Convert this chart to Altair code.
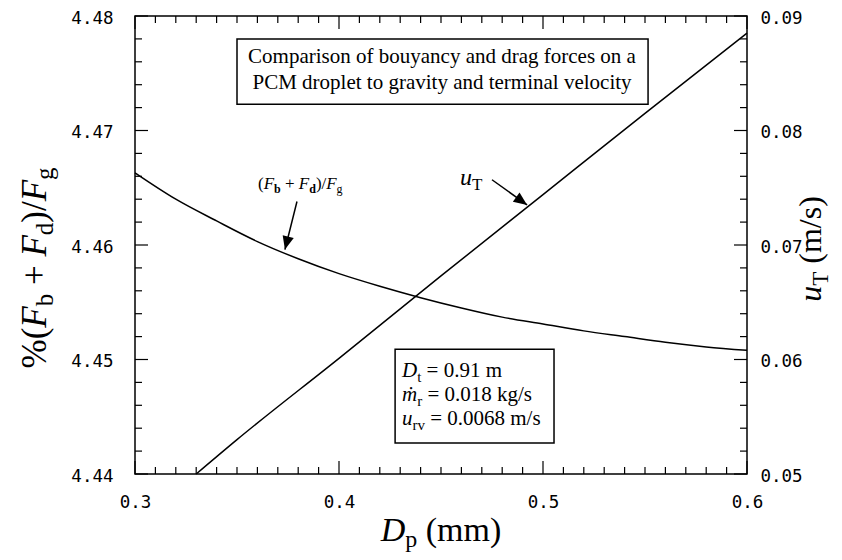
import math
import altair as alt
import pandas as pd

# ---------------- data ----------------
dp_ratio = [0.30, 0.32, 0.34, 0.36, 0.38, 0.40, 0.42, 0.44, 0.46, 0.48,
            0.50, 0.52, 0.54, 0.56, 0.58, 0.60]
ratio_vals = [4.4663, 4.4640, 4.4621, 4.4603, 4.4588, 4.4575, 4.4564, 4.4554,
              4.4545, 4.4537, 4.4531, 4.4525, 4.4520, 4.4515, 4.4511, 4.4508]

dp_ut = [0.33, 0.35, 0.40, 0.45, 0.50, 0.55, 0.60]
ut_vals = [0.0500, 0.0530, 0.0601, 0.0673, 0.0744, 0.0815, 0.0885]

x_major = [0.3, 0.4, 0.5, 0.6]
x_minor = [round(0.3 + 0.01 * i, 2) for i in range(31) if i % 10 != 0]
yl_major = [4.44, 4.45, 4.46, 4.47, 4.48]
yl_minor = [round(4.44 + 0.002 * i, 3) for i in range(21) if i % 5 != 0]
yr_major = [0.05, 0.06, 0.07, 0.08, 0.09]
yr_minor = [round(0.05 + 0.002 * i, 3) for i in range(21) if i % 5 != 0]

title_lines = ["Comparison of bouyancy and drag forces on a",
               "PCM droplet to gravity and terminal velocity"]

# ---------------- layout ----------------
W, H = 612, 458
SERIF = "Liberation Serif"
MONO = "DejaVu Sans Mono"
LBL = 17.5

xs = alt.Scale(domain=[0.3, 0.6], nice=False, zero=False)
yls = alt.Scale(domain=[4.44, 4.48], nice=False, zero=False)
yrs = alt.Scale(domain=[0.05, 0.09], nice=False, zero=False)

common_axis = dict(title=None, ticks=False, domain=False, grid=False, labelFont=MONO,
                   labelFontSize=LBL, labelColor='black', labelOverlap=False)
x_axis = alt.Axis(values=x_major, format='.1f', labelPadding=19, labelFlush=False,
                  orient='bottom', **common_axis)
yl_axis = alt.Axis(values=yl_major, format='.2f', labelPadding=22, orient='left',
                   labelOffset=2, **common_axis)
yr_axis = alt.Axis(values=yr_major, format='.2f', labelPadding=13, orient='right',
                   labelOffset=2, **common_axis)


def X(f):
    return alt.X(f, scale=xs, axis=x_axis)


def YL(f):
    return alt.Y(f, scale=yls, axis=yl_axis)


def YR(f):
    return alt.Y(f, scale=yrs, axis=yr_axis)


REG = {' ': 0.25, '%': 0.833, '(': 0.333, ')': 0.333, '+': 0.564, '/': 0.278,
       '=': 0.564, '.': 0.25, 'a': 0.444, 'b': 0.5, 'c': 0.444, 'd': 0.5,
       'e': 0.444, 'f': 0.333, 'g': 0.5, 'h': 0.5, 'i': 0.278, 'k': 0.5,
       'l': 0.278, 'm': 0.778, 'n': 0.5, 'o': 0.5, 'p': 0.5, 'r': 0.333,
       's': 0.389, 't': 0.278, 'u': 0.5, 'v': 0.5, 'y': 0.5, 'T': 0.611}
for d in "0123456789":
    REG[d] = 0.5
ITAL = {'F': 0.611, 'D': 0.722, 'u': 0.5, 'ṁ': 0.722}
BOLD = {'b': 0.556, 'd': 0.556}


def width(txt, size, style):
    tab = ITAL if style == 'i' else BOLD if style == 'b' else REG
    return sum(tab.get(c, REG.get(c, 0.5)) for c in txt) * size


def text_run(segs, data, enc, angle=0, center=False):
    total = sum(width(t, s, st) for t, s, st, _ in segs)
    off = -total / 2 if center else 0.0
    out = []
    for t, s, st, sh in segs:
        lead = len(t) - len(t.lstrip(' '))
        off += lead * 0.25 * s
        core = t.strip(' ')
        props = dict(text=core, font=SERIF, fontSize=s, align='left',
                     baseline='alphabetic', color='black', dx=round(off, 1), dy=sh)
        if angle:
            props['angle'] = angle
        if st == 'i':
            props['fontStyle'] = 'italic'
        if st == 'b':
            props['fontWeight'] = 'bold'
        out.append(alt.Chart(data).mark_text(**props).encode(**enc))
        off += width(t, s, st) - lead * 0.25 * s
    return out


def data_anchor(x, y):
    df = pd.DataFrame({'x': [x], 'y': [y]})
    return df, dict(x=X('x:Q'), y=YL('y:Q'))


one = pd.DataFrame({'k': [0]})

# ---------------- data marks ----------------
ratio_line = alt.Chart(pd.DataFrame({'dp': dp_ratio, 'r': ratio_vals})).mark_line(
    color='black', strokeWidth=1.5, interpolate='monotone').encode(x=X('dp:Q'), y=YL('r:Q'))

ut_line = alt.Chart(pd.DataFrame({'dp': dp_ut, 'u': ut_vals})).mark_line(
    color='black', strokeWidth=1.5, interpolate='monotone').encode(x=X('dp:Q'), y=YR('u:Q'))


def xticks(vals, top, ln):
    return alt.Chart(pd.DataFrame({'t': vals})).mark_rule(color='black', strokeWidth=1.2).encode(
        x=X('t:Q'), y=alt.value(0 if top else H), y2=alt.value(ln if top else H - ln))


def yticks(vals, right, ln):
    yenc = YR('t:Q') if right else YL('t:Q')
    return alt.Chart(pd.DataFrame({'t': vals})).mark_rule(color='black', strokeWidth=1.2).encode(
        y=yenc, x=alt.value(W if right else 0), x2=alt.value(W - ln if right else ln))


ticks_left = [xticks(x_major, False, 13), xticks(x_minor, False, 7),
              xticks(x_major, True, 13), xticks(x_minor, True, 7),
              yticks(yl_major, False, 13), yticks(yl_minor, False, 7)]
ticks_right = [yticks(yr_major, True, 13), yticks(yr_minor, True, 7)]

# ---------------- annotations ----------------
boxes = pd.DataFrame({'x': [0.350, 0.4275], 'x2': [0.5515, 0.5054],
                      'y': [4.4780, 4.4509], 'y2': [4.4723, 4.4427]})
box_layer = alt.Chart(boxes).mark_rect(filled=False, stroke='black', strokeWidth=1.5).encode(
    x=X('x:Q'), x2='x2:Q', y=YL('y:Q'), y2='y2:Q')

title_df = pd.DataFrame({'x': [0.4505, 0.4505], 'y': [4.4764, 4.47415], 't': title_lines})
title_layer = alt.Chart(title_df).mark_text(font=SERIF, fontSize=21, align='center',
                                            baseline='middle', color='black').encode(
    x=X('x:Q'), y=YL('y:Q'), text='t:N')

texts = []
d, e = data_anchor(0.43088, 4.44847)
texts += text_run([("D", 21, 'i', 0), ("t", 15, 'r', 5), (" = 0.91 m", 21, 'r', 0)], d, e)
d, e = data_anchor(0.43088, 4.44638)
texts += text_run([("ṁ", 21, 'i', 0), ("r", 15, 'r', 5), (" = 0.018 kg/s", 21, 'r', 0)], d, e)
d, e = data_anchor(0.43088, 4.44428)
texts += text_run([("u", 21, 'i', 0), ("rv", 15, 'r', 5), (" = 0.0068 m/s", 21, 'r', 0)], d, e)
d, e = data_anchor(0.3603, 4.46489)
texts += text_run([("(", 17, 'r', 0), ("F", 17, 'i', 0), ("b", 12, 'b', 4), (" + ", 17, 'r', 0),
                   ("F", 17, 'i', 0), ("d", 12, 'b', 4), (")/", 17, 'r', 0), ("F", 17, 'i', 0),
                   ("g", 12, 'r', 4)], d, e)
d, e = data_anchor(0.4593, 4.46524)
texts += text_run([("u", 24, 'i', 0), ("T", 17, 'r', 5)], d, e)

# axis titles (pixel anchored guides)
texts += text_run([("%(", 35, 'r', 0), ("F", 35, 'i', 0), ("b", 25, 'r', 7), (" + ", 35, 'r', 0),
                   ("F", 35, 'i', 0), ("d", 25, 'r', 7), (")/", 35, 'r', 0), ("F", 35, 'i', 0),
                   ("g", 25, 'r', 7)], one, dict(x=alt.value(-89), y=alt.value(252)),
                  angle=270, center=True)
texts += text_run([("u", 32, 'i', 0), ("T", 23, 'r', 7), (" (m/s)", 32, 'r', 0)], one,
                  dict(x=alt.value(686), y=alt.value(233)), angle=270, center=True)
texts += text_run([("D", 34, 'i', 0), ("p", 24, 'r', 6), (" (mm)", 34, 'r', 0)], one,
                  dict(x=alt.value(306), y=alt.value(525)), center=True)

# arrows
arrows = pd.DataFrame({'x': [0.3794, 0.4750], 'y': [4.4638, 4.4657],
                       'x2': [0.3735, 0.4922], 'y2': [4.4596, 4.4635]})
px_x = W / 0.3
px_y = H / 0.04
arrows['ang'] = [round((math.degrees(math.atan2((b - a) * px_x, (c - dd) * px_y)) + 360) % 360, 1)
                 for a, b, c, dd in zip(arrows.x, arrows.x2, arrows.y2, arrows.y)]
shaft = alt.Chart(arrows).mark_rule(color='black', strokeWidth=1.5).encode(
    x=X('x:Q'), x2='x2:Q', y=YL('y:Q'), y2='y2:Q')
heads = []
for _, r in arrows.iterrows():
    hd = pd.DataFrame({'x': [r.x2], 'y': [r.y2]})
    heads.append(alt.Chart(hd).mark_point(shape="M0,0 L0.85,2 L-0.85,2 Z", filled=True, size=180,
                                          angle=float(r.ang), color='black', opacity=1).encode(
        x=X('x:Q'), y=YL('y:Q')))

left = alt.layer(ratio_line, *ticks_left, box_layer, title_layer, shaft, *heads, *texts)
right = alt.layer(ut_line, *ticks_right)

chart = alt.layer(left, right).resolve_scale(y='independent').properties(
    width=W, height=H,
    padding={"left": 127, "top": 8, "right": 87, "bottom": 80},
    autosize=alt.AutoSizeParams(type="none"),
).configure_view(stroke='black', strokeWidth=1.5)

chart.save("out.html", embed_options={"renderer": "svg", "actions": False})
